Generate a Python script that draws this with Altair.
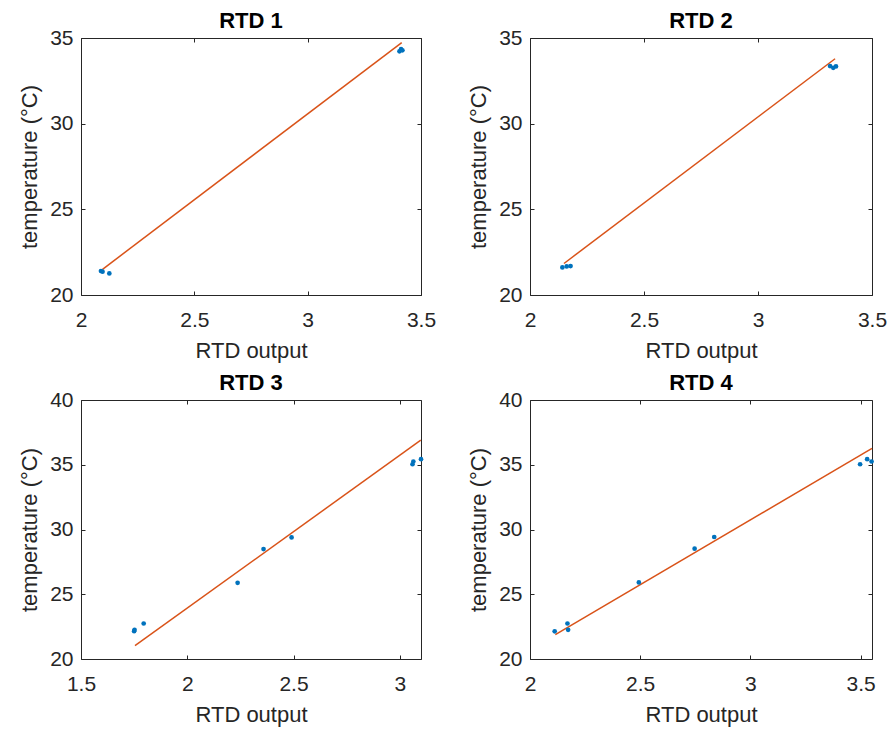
import altair as alt
import pandas as pd

FONT = "Liberation Sans"
TXT = "#262626"
BLUE = "#0072BD"
ORANGE = "#D95319"

titles = ["RTD 1", "RTD 2", "RTD 3", "RTD 4"]

# RTD 1
p1_x = [2.088, 2.095, 2.125, 3.405, 3.412, 3.418]
p1_y = [21.40, 21.36, 21.26, 34.22, 34.35, 34.28]
f1_x = [2.095, 3.415]
f1_y = [21.50, 34.73]
# RTD 2
p2_x = [2.142, 2.161, 2.178, 3.316, 3.330, 3.342]
p2_y = [21.61, 21.67, 21.69, 33.36, 33.26, 33.34]
f2_x = [2.149, 3.338]
f2_y = [21.84, 33.79]
# RTD 3
p3_x = [1.750, 1.752, 1.795, 2.237, 2.359, 2.491, 3.060, 3.064, 3.100]
p3_y = [22.15, 22.25, 22.74, 25.88, 28.49, 29.39, 35.04, 35.25, 35.43]
f3_x = [1.754, 3.099]
f3_y = [21.03, 36.90]
# RTD 4
p4_x = [2.112, 2.170, 2.173, 2.494, 2.747, 2.836, 3.498, 3.530, 3.550]
p4_y = [22.14, 22.74, 22.25, 25.91, 28.52, 29.42, 35.04, 35.43, 35.25]
f4_x = [2.115, 3.552]
f4_y = [21.88, 36.26]

x_dom = [[2, 3.5], [2, 3.5], [1.5, 3.1], [2, 3.552]]
y_dom = [[20, 35], [20, 35], [20, 40], [20, 40]]
x_ticks = [[2, 2.5, 3, 3.5], [2, 2.5, 3, 3.5], [1.5, 2, 2.5, 3], [2, 2.5, 3, 3.5]]
y_ticks = [[20, 25, 30, 35], [20, 25, 30, 35], [20, 25, 30, 35, 40], [20, 25, 30, 35, 40]]

x_title = "RTD output"
y_title = "temperature (°C)"


def tick_axis(orient, offset, values):
    return alt.Axis(orient=orient, offset=offset, values=values, labels=False,
                    domain=False, grid=False, ticks=True, tickSize=4,
                    tickColor=TXT, tickWidth=1, title=None)


def panel(title, px, py, fx, fy, xd, yd, xt, yt, w, h):
    pts = pd.DataFrame({"x": px, "y": py})
    fit = pd.DataFrame({"x": fx, "y": fy})
    ttl = pd.DataFrame({"t": [title]})
    xs = alt.Scale(domain=xd, nice=False, zero=False)
    ys = alt.Scale(domain=yd, nice=False, zero=False)
    ax_x = alt.Axis(orient="bottom", values=xt, format="~g", grid=False, domain=False,
                    ticks=False, tickSize=0, labelPadding=14, labelFontSize=21,
                    labelColor=TXT, labelFont=FONT, labelFlush=False, labelOverlap=False,
                    title=x_title, titleFontSize=22, titleColor=TXT, titleFont=FONT,
                    titleFontWeight="normal", titleX=w / 2, titleY=62,
                    titleBaseline="alphabetic", titleAlign="center")
    ax_y = alt.Axis(orient="left", values=yt, format="~g", grid=False, domain=False,
                    ticks=False, tickSize=0, labelPadding=8, labelFontSize=21,
                    labelColor=TXT, labelFont=FONT, labelFlush=False, labelOverlap=False,
                    title=y_title, titleFontSize=22, titleColor=TXT, titleFont=FONT,
                    titleFontWeight="normal", titleX=-45, titleY=h / 2, titleAngle=270,
                    titleBaseline="alphabetic", titleAlign="center")
    points = alt.Chart(pts).mark_circle(size=22, opacity=1, color=BLUE).encode(
        x=alt.X("x:Q", scale=xs, axis=ax_x),
        y=alt.Y("y:Q", scale=ys, axis=ax_y),
    )
    line = alt.Chart(fit).mark_line(color=ORANGE, strokeWidth=1.5).encode(
        x=alt.X("x:Q", scale=xs, axis=tick_axis("top", -h, xt)),
        y=alt.Y("y:Q", scale=ys, axis=tick_axis("right", -w, yt)),
    )
    ghost = alt.Chart(fit).mark_line(opacity=0).encode(
        x=alt.X("x:Q", scale=xs, axis=tick_axis("bottom", -h, xt)),
        y=alt.Y("y:Q", scale=ys, axis=tick_axis("left", -w, yt)),
    )
    head = alt.Chart(ttl).mark_text(fontSize=22, fontWeight="bold", color="#000000",
                                    font=FONT, baseline="alphabetic", align="center").encode(
        text="t:N", x=alt.value(w / 2), y=alt.value(-10)
    )
    return alt.layer(line, points, ghost, head).resolve_axis(
        x="independent", y="independent"
    ).properties(width=w, height=h)


widths = [340, 342, 340, 342]
heights = [257, 257, 259, 259]
pts_x = [p1_x, p2_x, p3_x, p4_x]
pts_y = [p1_y, p2_y, p3_y, p4_y]
fit_x = [f1_x, f2_x, f3_x, f4_x]
fit_y = [f1_y, f2_y, f3_y, f4_y]

panels = [panel(titles[i], pts_x[i], pts_y[i], fit_x[i], fit_y[i], x_dom[i], y_dom[i],
                x_ticks[i], y_ticks[i], widths[i], heights[i]) for i in range(4)]

chart = alt.concat(*panels, columns=2, spacing={"row": 105, "column": 109},
                   bounds="flush").properties(
    padding={"left": 17, "top": 9, "right": 0, "bottom": 5},
    background="white",
).configure(font=FONT).configure_view(stroke=TXT, strokeWidth=1)

chart.save("out.html", embed_options={"renderer": "svg", "actions": False})
